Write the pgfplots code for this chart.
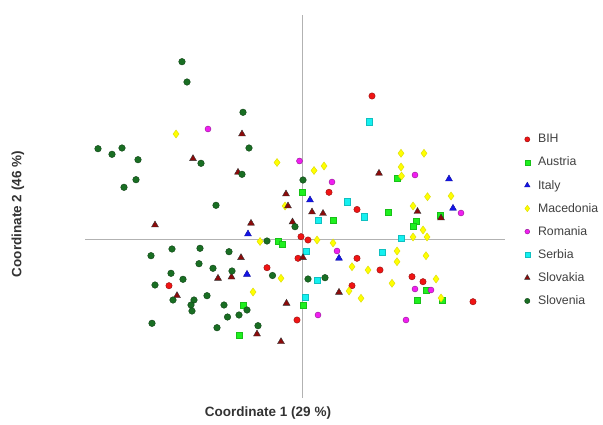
\documentclass[border=0pt]{standalone}
\usepackage{fontspec}
\setmainfont{Liberation Sans}
\usepackage{pgfplots}
\pgfplotsset{compat=1.18}
\definecolor{bih}{RGB}{240,20,20}
\definecolor{aus}{RGB}{30,240,30}
\definecolor{ita}{RGB}{20,20,230}
\definecolor{mac}{RGB}{255,255,0}
\definecolor{rom}{RGB}{240,30,240}
\definecolor{srb}{RGB}{20,240,240}
\definecolor{svk}{RGB}{140,10,10}
\definecolor{slo}{RGB}{25,110,35}
\begin{document}
\begin{tikzpicture}[x=1pt,y=1pt]
\path[use as bounding box] (0,0) rectangle (603,424);
\begin{axis}[at={(85pt,26pt)}, anchor=south west, scale only axis,
  width=420pt, height=383pt, xmin=85, xmax=505, ymin=26, ymax=409,
  axis line style={draw=none}, ticks=none, clip=false,
  legend cell align=left,
  legend style={at={(1.046,0.694)}, anchor=north west, draw=none, fill=none,
    font=\fontsize{12.3}{13}\selectfont, text=black!75, row sep=8.7pt, inner sep=0pt},
  legend image code/.code={\draw[#1,/tikz/every mark/.append style={scale=0.8}] plot coordinates {(0.12cm,0cm)};},
  /tikz/every even column/.append style={column sep=3pt},
  /tikz/every odd column/.append style={column sep=6pt}]
\draw[gray!60, line width=0.8pt] (axis cs:302,26) -- (axis cs:302,409);
\draw[gray!60, line width=0.8pt] (axis cs:85,185) -- (axis cs:505,185);
\addplot[only marks, mark=*, mark size=3.2pt, mark options={fill=bih, draw=bih!60!black, line width=0.4pt}] coordinates {
(372,328) (329,231.7) (357,214.5) (301,187.3) (298,165.7) (308,184) (267,156.3) (169,138.3)
(297,104) (357,165.7) (380,154) (352,138.3) (412,147.3) (423,142.3) (473,122.3)};
\addlegendentry{BIH}
\addplot[only marks, mark=square*, mark size=3.2pt, mark options={fill=aus, draw=aus!80!black, line width=0.4pt}] coordinates {
(302,231.5) (397,245.7) (333,204) (388,212) (440,209) (416,203) (413,197.5) (278,183) (282,179.7)
(243,119) (303,119) (426,134) (417,124) (442,124) (239,89)};
\addlegendentry{Austria}
\addplot[only marks, mark=triangle*, mark size=4pt, mark options={fill=ita, draw=ita!70!black, line width=0.4pt}] coordinates {
(449,245) (453,215.7) (310,224) (248,190) (247,149.7) (339,165.7)};
\addlegendentry{Italy}
\addplot[only marks, mark=diamond*, mark size=4pt, mark options={fill=mac, draw=mac!85!black, line width=0.4pt}] coordinates {
(176,290) (277,261.5) (285,218) (314,253.5) (324,258) (401,270.7) (424,270.7) (401,257) (401.5,248)
(427.5,227.3) (451,228) (413,218) (423,194) (413,187) (427,187) (260,182.5) (281,145.7) (253,132)
(317,184) (333,181) (397,173) (397,162.3) (426,168.3) (352,157.3) (368,154) (349,133) (361,125.7)
(392,140.7) (436,145) (441,126)};
\addlegendentry{Macedonia}
\addplot[only marks, mark=*, mark size=3pt, mark options={fill=rom, draw=rom!60!black, line width=0.4pt}] coordinates {
(208,295) (299.5,263) (332,242) (415,249) (461,211) (337,173) (415,135) (431,134) (318,109) (406,104)};
\addlegendentry{Romania}
\addplot[only marks, mark=square*, mark size=3.2pt, mark options={fill=srb, draw=srb!80!black, line width=0.4pt}] coordinates {
(369,302.3) (347,222.3) (364,207.3) (318,203.5) (401,186) (306,173) (382,171.7) (317,144) (305,127)};
\addlegendentry{Serbia}
\addplot[only marks, mark=triangle*, mark size=4pt, mark options={fill=svk, draw=black!80, line width=0.4pt}] coordinates {
(242,290) (193,265.3) (238,251.7) (286,230) (288,218) (155,199) (251,200.7) (292.5,202) (379,250.7)
(312,212) (323,210.5) (417.5,212.5) (441,206) (241,166.3) (218,145.7) (231.5,147) (177,128.3)
(286.5,120.7) (257,90) (281,82.3) (303,166.3) (339,131.7)};
\addlegendentry{Slovakia}
\addplot[only marks, mark=*, mark size=3.3pt, mark options={fill=slo, draw=slo!60!black, line width=0.4pt}] coordinates {
(182,362.3) (187,342) (243,311.7) (249,276) (98,275.3) (112,269.7) (122,276) (138,264.3) (201,260.7)
(242,249.7) (136,244.3) (124,236.7) (303,244) (216,218.7) (295,197.3) (267,183) (172,175) (200,175.7)
(229,172.3) (151,168.3) (199,160.3) (213,155.7) (232,153) (171,150.7) (272.5,148.5) (183,144.7)
(155,139) (173,124) (207,128.3) (194,124) (191,119) (192,113) (224,119) (247,114) (239,109)
(227.5,107) (152,100.7) (217,96.3) (258,98.3) (308,145) (325,146.3)};
\addlegendentry{Slovenia}
\end{axis}
\node[font=\bfseries\fontsize{13.5}{15}\selectfont, text=black!80] at (268,11) {Coordinate 1 (29 \%)};
\node[rotate=90, font=\bfseries\fontsize{13.5}{15}\selectfont, text=black!80] at (18,210) {Coordinate 2 (46 \%)};
\end{tikzpicture}
\end{document}
